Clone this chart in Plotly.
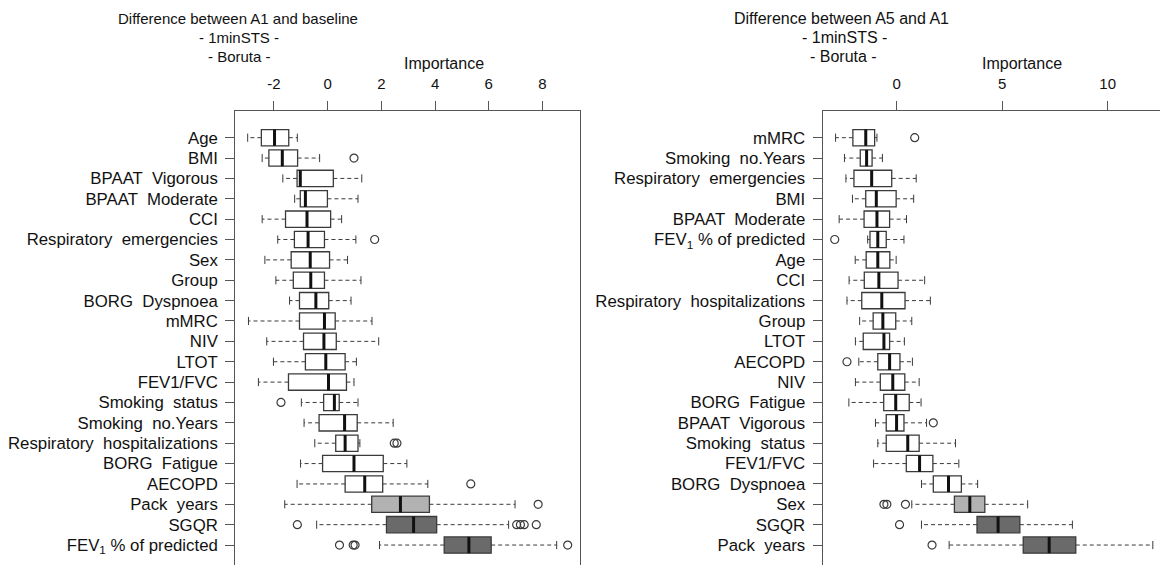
import plotly.graph_objects as go

# ---------------- Left panel: Difference between A1 and baseline ----------------
labels_l = ["Age", "BMI", "BPAAT  Vigorous", "BPAAT  Moderate", "CCI",
            "Respiratory  emergencies", "Sex", "Group", "BORG  Dyspnoea", "mMRC",
            "NIV", "LTOT", "FEV1/FVC", "Smoking  status", "Smoking  no.Years",
            "Respiratory  hospitalizations", "BORG  Fatigue", "AECOPD", "Pack  years",
            "SGQR", "FEV<sub>1</sub> % of predicted"]
low_l = [-2.98, -2.44, -1.67, -1.23, -2.44, -1.86, -2.34, -1.93, -1.42, -2.95,
         -2.27, -2.02, -2.58, -0.98, -0.88, -0.48, -1.01, -1.14, -1.60, -0.41, 1.93]
q1_l = [-2.47, -2.19, -1.14, -1.02, -1.57, -1.24, -1.36, -1.28, -1.05, -1.05,
        -0.90, -0.83, -1.46, -0.15, -0.32, 0.30, -0.19, 0.65, 1.64, 2.19, 4.34]
med_l = [-1.98, -1.69, -1.02, -0.83, -0.77, -0.73, -0.65, -0.63, -0.44, -0.12,
         -0.14, -0.07, 0.03, 0.25, 0.63, 0.65, 0.98, 1.38, 2.71, 3.20, 5.26]
q3_l = [-1.45, -1.12, 0.21, -0.01, 0.11, -0.12, 0.07, -0.12, 0.04, 0.28,
        0.32, 0.65, 0.70, 0.43, 1.10, 1.13, 2.07, 2.05, 3.79, 4.06, 6.09]
high_l = [-1.13, -0.30, 1.27, 1.13, 0.52, 1.05, 0.74, 1.24, 0.87, 1.65,
          1.90, 1.07, 0.98, 1.13, 2.44, 1.20, 2.95, 3.73, 6.98, 6.74, 8.53]
outl_l = [[], [0.98], [], [], [], [1.75], [], [], [], [],
          [], [], [], [-1.74], [], [2.48, 2.58], [], [5.33], [7.84],
          [-1.13, 7.04, 7.18, 7.32, 7.77], [0.44, 0.95, 1.02, 8.94]]
status_l = ["rejected"] * 18 + ["tentative", "confirmed", "confirmed"]
ticks_l = [-2, 0, 2, 4, 6, 8]

# ---------------- Right panel: Difference between A5 and A1 ----------------
labels_r = ["mMRC", "Smoking  no.Years", "Respiratory  emergencies", "BMI",
            "BPAAT  Moderate", "FEV<sub>1</sub> % of predicted", "Age", "CCI",
            "Respiratory  hospitalizations", "Group", "LTOT", "AECOPD", "NIV",
            "BORG  Fatigue", "BPAAT  Vigorous", "Smoking  status", "FEV1/FVC",
            "BORG  Dyspnoea", "Sex", "SGQR", "Pack  years"]
low_r = [-2.89, -2.47, -2.40, -2.09, -2.72, -1.37, -1.96, -2.25, -2.35, -1.75,
         -1.95, -1.79, -1.95, -2.26, -1.00, -0.89, -1.09, 1.18, 0.72, 1.18, 2.49]
q1_r = [-2.07, -1.72, -2.02, -1.46, -1.54, -1.26, -1.44, -1.53, -1.65, -1.11,
        -1.58, -0.89, -0.77, -0.61, -0.49, -0.49, 0.46, 1.74, 2.74, 3.81, 6.00]
med_r = [-1.46, -1.42, -1.18, -0.96, -0.93, -0.89, -0.89, -0.84, -0.70, -0.65,
         -0.60, -0.33, -0.18, -0.04, 0.00, 0.53, 1.09, 2.46, 3.47, 4.81, 7.23]
q3_r = [-1.04, -1.16, -0.23, -0.02, -0.33, -0.49, -0.32, 0.07, 0.40, -0.04,
        -0.33, 0.16, 0.39, 0.60, 0.35, 1.07, 1.72, 3.07, 4.18, 5.84, 8.49]
high_r = [-0.93, -0.67, 0.93, 0.81, 0.47, 0.35, -0.02, 1.33, 1.60, 0.72,
          0.37, 0.75, 1.07, 1.16, 1.42, 2.79, 2.95, 3.84, 6.21, 8.33, 12.14]
outl_r = [[0.86], [], [], [], [], [-2.93], [], [], [], [],
          [], [-2.35], [], [], [1.74], [], [], [], [-0.60, -0.46, 0.42], [0.14], [1.68]]
status_r = ["rejected"] * 18 + ["tentative", "confirmed", "confirmed"]
ticks_r = [0, 5, 10]

FILL = {"rejected": "#ffffff", "tentative": "#b2b2b2", "confirmed": "#6a6a6a"}
EDGE = "#3a3a3a"
FONT = "Liberation Sans, Arial, sans-serif"

fig = go.Figure()


def add_panel(fig, xa, ya, low, q1, med, q3, high, outl, status):
    pos = list(range(len(low)))
    for st in ["rejected", "tentative", "confirmed"]:
        idx = [i for i in pos if status[i] == st]
        if not idx:
            continue
        fig.add_trace(go.Box(
            orientation="h", xaxis=xa, yaxis=ya,
            y=[pos[i] for i in idx],
            q1=[q1[i] for i in idx], median=[med[i] for i in idx],
            q3=[q3[i] for i in idx],
            lowerfence=[q1[i] for i in idx], upperfence=[q3[i] for i in idx],
            width=0.8, fillcolor=FILL[st], line=dict(color=EDGE, width=1.3),
            whiskerwidth=0, boxpoints=False, hoverinfo="skip"))
    # dashed whiskers
    wx, wy = [], []
    for i in pos:
        wx += [q1[i], low[i], None, q3[i], high[i], None]
        wy += [i, i, None, i, i, None]
    fig.add_trace(go.Scatter(x=wx, y=wy, mode="lines", xaxis=xa, yaxis=ya,
                             line=dict(color=EDGE, width=1, dash="4px,3px"),
                             hoverinfo="skip"))
    # staples
    sx, sy = [], []
    for i in pos:
        for v in (low[i], high[i]):
            sx += [v, v, None]
            sy += [i - 0.2, i + 0.2, None]
    fig.add_trace(go.Scatter(x=sx, y=sy, mode="lines", xaxis=xa, yaxis=ya,
                             line=dict(color=EDGE, width=1), hoverinfo="skip"))
    # thick medians
    mx, my = [], []
    for i in pos:
        mx += [med[i], med[i], None]
        my += [i - 0.4, i + 0.4, None]
    fig.add_trace(go.Scatter(x=mx, y=my, mode="lines", xaxis=xa, yaxis=ya,
                             line=dict(color="#111111", width=3), hoverinfo="skip"))
    # outliers
    ox, oy = [], []
    for i in pos:
        for v in outl[i]:
            ox.append(v)
            oy.append(i)
    fig.add_trace(go.Scatter(x=ox, y=oy, mode="markers", xaxis=xa, yaxis=ya,
                             marker=dict(symbol="circle-open", size=8,
                                         color=EDGE, line=dict(width=1.2)),
                             hoverinfo="skip"))


add_panel(fig, "x", "y", low_l, q1_l, med_l, q3_l, high_l, outl_l, status_l)
add_panel(fig, "x2", "y2", low_r, q1_r, med_r, q3_r, high_r, outl_r, status_r)

W, H = 1160, 565
top_px = 111
ydom = [0, 1 - top_px / H]
yrange = [20.98, -1.31]

axis_common = dict(showgrid=False, zeroline=False, showline=True,
                   linecolor="#555555", linewidth=1.2, ticks="outside",
                   tickcolor="#555555", tickwidth=1.2, ticklen=9,
                   tickfont=dict(family=FONT, size=15, color="#111111"))
yfont = dict(family=FONT, size=16.8, color="#111111")

fig.update_layout(
    width=W, height=H, margin=dict(l=0, r=0, t=0, b=0),
    paper_bgcolor="white", plot_bgcolor="white", showlegend=False,
    xaxis=dict(domain=[235.3 / W, 580.3 / W], range=[-3.441, 9.41],
               side="top", anchor="y", tickvals=ticks_l,
               ticktext=[str(t) for t in ticks_l], ticklabelstandoff=6,
               **axis_common),
    yaxis=dict(domain=ydom, range=yrange, anchor="x", mirror=True,
               tickvals=list(range(len(labels_l))), ticktext=labels_l,
               ticklabelstandoff=4, **{**axis_common, "tickfont": yfont}),
    xaxis2=dict(domain=[822.7 / W, 1.0], range=[-3.5, 12.48],
                side="top", anchor="y2", tickvals=ticks_r,
                ticktext=[str(t) for t in ticks_r], ticklabelstandoff=6,
                **axis_common),
    yaxis2=dict(domain=ydom, range=yrange, anchor="x2",
                tickvals=list(range(len(labels_r))), ticktext=labels_r,
                ticklabelstandoff=4, **{**axis_common, "tickfont": yfont}),
)


def ann(text, xpx, ypx, size=15):
    fig.add_annotation(text=text, x=xpx / W, y=1 - ypx / H, xref="paper",
                       yref="paper", xanchor="center", yanchor="middle",
                       showarrow=False,
                       font=dict(family=FONT, size=size, color="#111111"))


ann("Difference between A1 and baseline", 238, 18, 15)
ann("- 1minSTS -", 239, 38, 15)
ann("- Boruta -", 239, 57, 15)
ann("Importance", 444, 63, 16)
ann("Difference between A5 and A1", 841, 18, 16)
ann("- 1minSTS -", 844, 38, 16)
ann("- Boruta -", 843, 56, 16)
ann("Importance", 1022, 63, 16)

fig.write_html("out.html")
